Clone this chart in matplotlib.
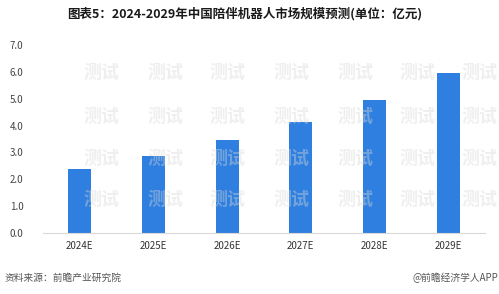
import numpy as np
import matplotlib
matplotlib.use("Agg")
import matplotlib.pyplot as plt

plt.rcParams['font.family'] = ['Noto Sans CJK SC', 'DejaVu Sans']

# data
years = ['2024E', '2025E', '2026E', '2027E', '2028E', '2029E']
market_size = [2.4, 2.88, 3.46, 4.13, 4.94, 5.95]
y_ticks = [0, 1, 2, 3, 4, 5, 6, 7]

title = '图表5：2024-2029年中国陪伴机器人市场规模预测(单位：亿元)'
source = '资料来源：前瞻产业研究院'
credit = '@前瞻经济学人APP'

fig = plt.figure(figsize=(4.99, 2.94), dpi=100)
ax = fig.add_axes([0.086, 0.2075, 0.886, 0.6395])

x = np.arange(len(years))
ax.bar(x, market_size, width=0.31, color='#2f7fe0', zorder=2)

ax.set_xlim(-0.5, len(years) - 0.5)
ax.set_ylim(0, 7)
ax.set_yticks(y_ticks)
ax.set_yticklabels([f'{v:.1f}' for v in y_ticks], fontsize=7, color='#444444')
ax.set_xticks(x)
ax.set_xticklabels(years, fontsize=7, color='#333333')
ax.tick_params(length=0, pad=6)
ax.tick_params(axis='y', pad=14)
for s in ['top', 'right', 'left']:
    ax.spines[s].set_visible(False)
ax.spines['bottom'].set_color('#d9d9d9')
ax.spines['bottom'].set_linewidth(0.8)

fig.text(0.49, 0.952, title, ha='center', va='center', fontsize=9,
         fontweight='bold', color='#1a1a1a')
fig.text(0.01, 0.055, source, ha='left', va='center', fontsize=7, color='#555555')
fig.text(0.998, 0.055, credit, ha='right', va='center', fontsize=7, color='#555555')

# faint watermark grid, only inside the plotting area (clear of labels)
for yy in [72, 116, 158, 199]:
    for xx in [102, 165, 228, 292, 355, 418, 480]:
        fig.text(xx / 499, 1 - yy / 294, '测试', ha='center', va='center',
                 fontsize=13, fontweight='bold', color='#d8d8d8', alpha=0.4,
                 zorder=5)

fig.savefig('out.png', dpi=100)
